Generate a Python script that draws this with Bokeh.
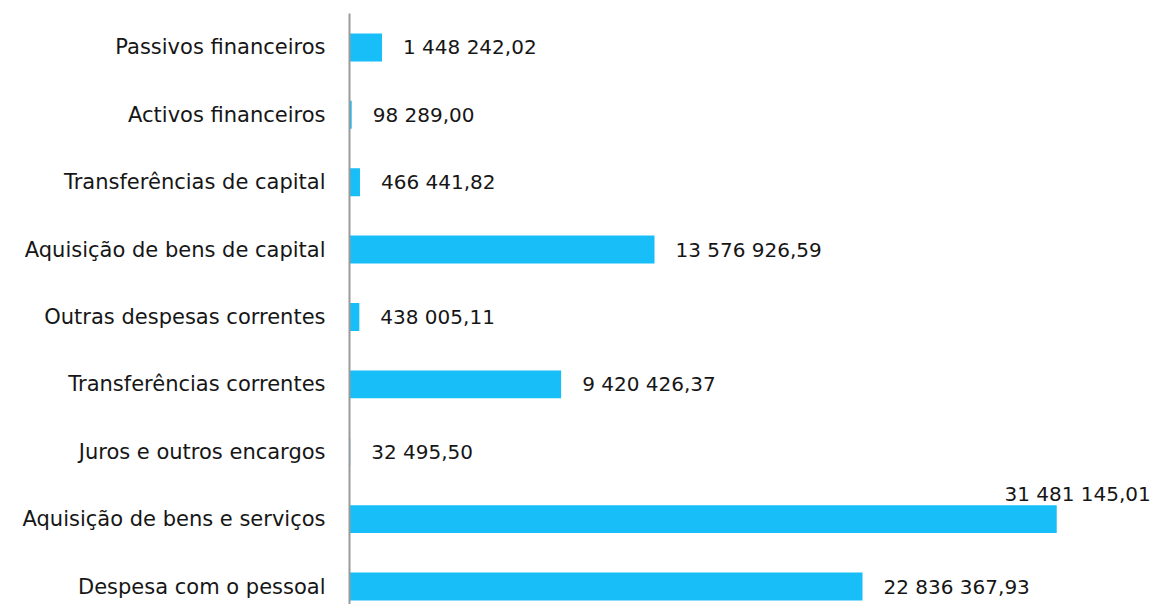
from bokeh.plotting import figure
from bokeh.models import ColumnDataSource, Range1d, FixedTicker
from bokeh.core.properties import value
from bokeh.embed import file_html
from bokeh.resources import INLINE

# Data (bottom to top)
categories = [
    "Despesa com o pessoal",
    "Aquisição de bens e serviços",
    "Juros e outros encargos",
    "Transferências correntes",
    "Outras despesas correntes",
    "Aquisição de bens de capital",
    "Transferências de capital",
    "Activos financeiros",
    "Passivos financeiros",
]
values = [22836367.93, 31481145.01, 32495.50, 9420426.37, 438005.11,
          13576926.59, 466441.82, 98289.00, 1448242.02]
value_labels = ["22 836 367,93", "31 481 145,01", "32 495,50", "9 420 426,37",
                "438 005,11", "13 576 926,59", "466 441,82", "98 289,00",
                "1 448 242,02"]

idx = list(range(len(categories)))
FONT = "DejaVu Sans"
BAR = "#17BEF7"
TXT = "#161616"

p = figure(width=1151, height=604, output_backend="svg", toolbar_location=None,
           x_range=Range1d(0, 35.7e6), y_range=Range1d(-0.267, 8.504),
           min_border_left=349, min_border_right=0, min_border_top=13,
           min_border_bottom=0)

src = ColumnDataSource(dict(y=idx, v=values, lab=value_labels, cat=categories))
p.hbar(y="y", right="v", left=0, height=0.415, source=src, color=BAR, line_color=None)

# value labels (largest one placed above its bar)
big = max(range(len(values)), key=lambda i: values[i])
norm = [i for i in idx if i != big]
src_n = ColumnDataSource(dict(y=[idx[i] for i in norm], v=[values[i] for i in norm],
                              lab=[value_labels[i] for i in norm]))
p.text(x="v", y="y", text="lab", source=src_n, x_offset=21,
       text_baseline="middle", text_align="left", text_font=value(FONT),
       text_font_size="20px", text_color=TXT)
src_b = ColumnDataSource(dict(y=[idx[big]], v=[values[big]], lab=[value_labels[big]]))
p.text(x="v", y="y", text="lab", source=src_b, x_offset=94, y_offset=-25,
       text_baseline="middle", text_align="right", text_font=value(FONT),
       text_font_size="20px", text_color=TXT)

p.xaxis.visible = False
p.xgrid.visible = False
p.ygrid.visible = False
p.outline_line_color = None

ya = p.yaxis[0]
ya.ticker = FixedTicker(ticks=idx)
ya.major_label_overrides = {i: c for i, c in zip(idx, categories)}
ya.major_tick_line_color = None
ya.minor_tick_line_color = None
ya.axis_line_color = "#9a9a9a"
ya.axis_line_width = 2
ya.major_label_text_font = FONT
ya.major_label_text_font_size = "21px"
ya.major_label_text_color = TXT
ya.major_label_standoff = 18

open("out.html", "w").write(file_html(p, INLINE))
